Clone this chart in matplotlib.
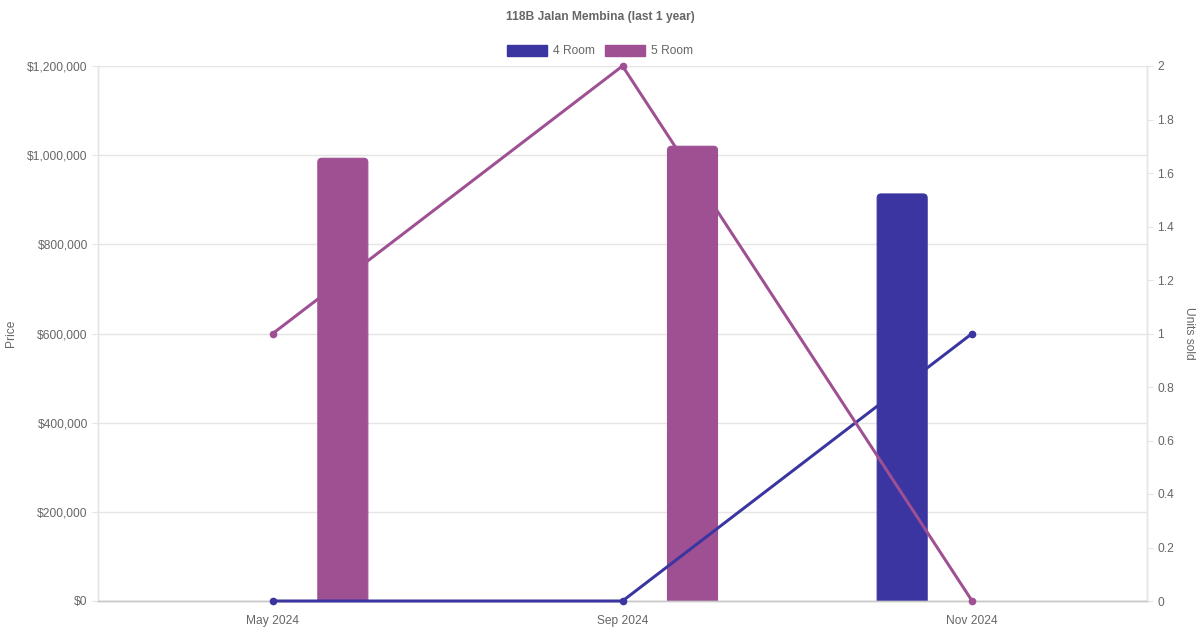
import matplotlib
matplotlib.use("Agg")
import matplotlib.pyplot as plt
from matplotlib.patches import FancyBboxPatch, Rectangle
from matplotlib.ticker import FuncFormatter

# ---- data ----
categories = ["May 2024", "Sep 2024", "Nov 2024"]
series_names = ["4 Room", "5 Room"]
price_4room = [None, None, 913000]
price_5room = [993000, 1020000, None]
units_4room = [0, 0, 1]
units_5room = [1, 2, 0]
price_ticks = [0, 200000, 400000, 600000, 800000, 1000000, 1200000]
unit_ticks = [0, 0.2, 0.4, 0.6, 0.8, 1, 1.2, 1.4, 1.6, 1.8, 2]

c4 = "#3a35a0"
c5 = "#9e5092"
txt = "#666666"
plt.rcParams['font.family'] = ['Liberation Sans', 'DejaVu Sans']
FS = 12 * 0.72  # 12px in pt

W, H = 1200, 630
fig = plt.figure(figsize=(W / 100, H / 100), dpi=100)
L, R, T, B = 98, 1147, 66, 601
ax = fig.add_axes([L / W, 1 - B / H, (R - L) / W, (B - T) / H])
ax2 = ax.twinx()

x = list(range(len(categories)))
bw = 50 / ((R - L) / 3)   # bar width in category units
off = 70 / ((R - L) / 3)

ax.set_xlim(-0.5, len(categories) - 0.5)
ax.set_ylim(0, 1200000)
ax2.set_ylim(0, 2)

# rounded bars
px_x = 3 / (R - L)
px_y = 1200000 / (B - T)
rad = 4
def rbar(xc, h, color):
    if h is None:
        return
    bars = ax.bar([xc], [h], width=bw, color=color)
    for p in bars.patches:
        x0, w, hh = p.get_x(), p.get_width(), p.get_height()
        p.remove()
        ext = rad * px_y
        fb = FancyBboxPatch((x0, -ext), w, hh + ext,
                            boxstyle=f"round,pad=0,rounding_size={rad * px_x}",
                            mutation_aspect=px_y / px_x,
                            facecolor=color, edgecolor=color, linewidth=0.8,
                            zorder=2, clip_on=True)
        ax.add_patch(fb)

for i in x:
    rbar(i - off, price_4room[i], c4)
    rbar(i + off, price_5room[i], c5)

# lines on secondary axis
lw = 3 * 0.72
ax2.plot(x, units_4room, color=c4, lw=lw, marker="o", ms=4.5, clip_on=False, zorder=3)
ax2.plot(x, units_5room, color=c5, lw=lw, marker="o", ms=4.5, clip_on=False, zorder=3)

# axes styling
grid_c = "#e5e5e5"
ax.set_yticks(price_ticks)
ax.yaxis.set_major_formatter(FuncFormatter(lambda v, p: f"${int(v):,}"))
ax.grid(axis="y", color=grid_c, lw=1)
ax.set_axisbelow(True)
ax.set_xticks(x)
ax.set_xticklabels(categories)
ax.tick_params(axis="x", length=0, pad=10, labelsize=FS, labelcolor=txt)
ax.tick_params(axis="y", length=4.3, width=0.8, color=grid_c, pad=3, labelsize=FS, labelcolor=txt)
ax2.set_yticks(unit_ticks)
ax2.set_yticklabels([f"{v:g}" for v in unit_ticks])
ax2.tick_params(axis="y", length=4.3, width=0.8, color=grid_c, pad=3, labelsize=FS, labelcolor=txt)

for a in (ax, ax2):
    for s in ("top",):
        a.spines[s].set_visible(False)
    a.spines["left"].set_color(grid_c)
    a.spines["right"].set_color(grid_c)
    a.spines["bottom"].set_color("#c8c8c8")
    for s in ("left", "right", "bottom"):
        a.spines[s].set_linewidth(1)

# labels
fig.text(11 / W, 1 - 333 / H, "Price", rotation=90, ha="center", va="center", fontsize=FS, color=txt)
fig.text(1189 / W, 1 - 333 / H, "Units sold", rotation=-90, ha="center", va="center", fontsize=FS, color=txt)
fig.text(0.5, 1 - 17 / H, "118B Jalan Membina (last 1 year)", ha="center", va="center",
         fontsize=FS, fontweight="bold", color=txt)

handles = [Rectangle((0, 0), 1, 1, facecolor=c4, edgecolor=c4),
           Rectangle((0, 0), 1, 1, facecolor=c5, edgecolor=c5)]
fig.legend(handles, series_names, loc="center", bbox_to_anchor=(0.5, 1 - 51 / H), ncol=2,
           frameon=False, fontsize=FS, labelcolor=txt, handlelength=3.33, handleheight=1.0,
           handletextpad=0.5, columnspacing=0.85, borderpad=0, borderaxespad=0)

fig.savefig("out.png", dpi=100)
